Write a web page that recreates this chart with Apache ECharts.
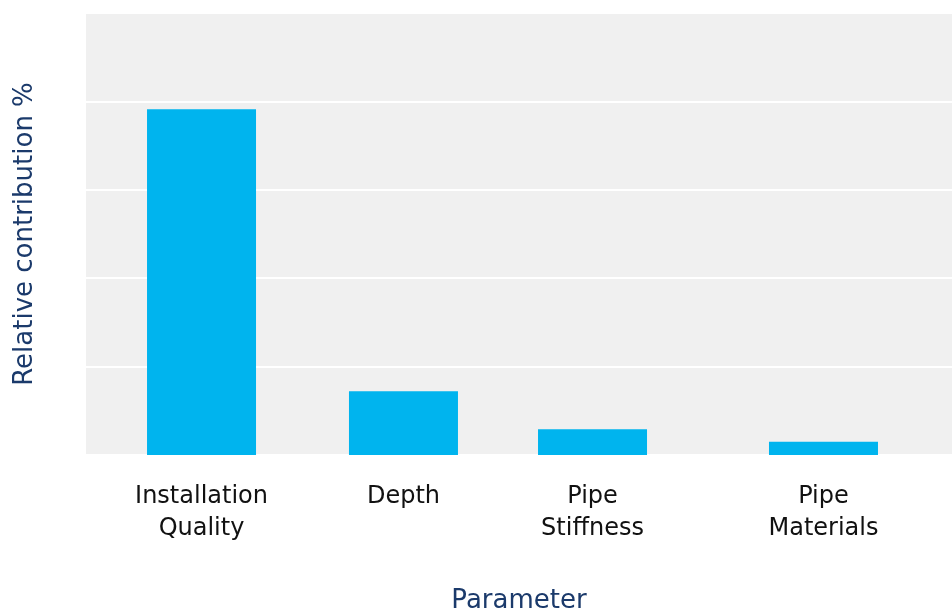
<!DOCTYPE html>
<html>
<head>
<meta charset="utf-8">
<script src="https://cdn.jsdelivr.net/npm/echarts@6/dist/echarts.min.js"></script>
<style>
  html, body { margin: 0; padding: 0; background: #ffffff; }
  #chart { width: 952px; height: 612px; }
</style>
</head>
<body>
<div id="chart"></div>
<script>
// Parameters and their relative contribution (%)
const categories = ['Installation\nQuality', 'Depth', 'Pipe\nStiffness', 'Pipe\nMaterials'];
const contribution = [39.1, 7.2, 2.9, 1.5];

// Horizontal placement of each bar along the x scale (0–100)
const barSlots = [13.34, 36.66, 58.49, 85.16];

const FONT = '"DejaVu Sans", sans-serif';
const NAVY = '#1b3a6b';

const chart = echarts.init(document.getElementById('chart'), null, { renderer: 'canvas' });

chart.setOption({
  animation: false,
  grid: {
    left: 86, right: 0, top: 13, bottom: 157,
    outerBoundsMode: 'none',
    containLabel: false,
    show: true, backgroundColor: '#f0f0f0', borderWidth: 0
  },
  xAxis: {
    type: 'value',
    min: 0, max: 100,
    name: 'Parameter',
    nameLocation: 'middle',
    nameGap: 146,
    nameTextStyle: { color: NAVY, fontFamily: FONT, fontSize: 26, verticalAlign: 'middle' },
    axisLine: { show: false },
    axisTick: { show: false },
    splitLine: { show: false },
    axisLabel: {
      customValues: barSlots,
      formatter: (v) => {
        const i = barSlots.indexOf(v);
        return i >= 0 ? categories[i] : '';
      },
      color: '#111111',
      fontFamily: FONT,
      fontSize: 24,
      lineHeight: 32,
      margin: 26
    }
  },
  yAxis: {
    type: 'value',
    min: 0, max: 50, interval: 10,
    name: 'Relative contribution %',
    nameLocation: 'middle',
    nameGap: 48,
    nameTextStyle: { color: NAVY, fontFamily: FONT, fontSize: 26 },
    axisLine: { show: false },
    axisTick: { show: false },
    axisLabel: { show: false },
    splitLine: { show: true, lineStyle: { color: '#ffffff', width: 2 } }
  },
  series: [{
    type: 'bar',
    barWidth: 109,
    itemStyle: { color: '#00b4ee' },
    data: barSlots.map((x, i) => [x, contribution[i]])
  }]
});
</script>
</body>
</html>
